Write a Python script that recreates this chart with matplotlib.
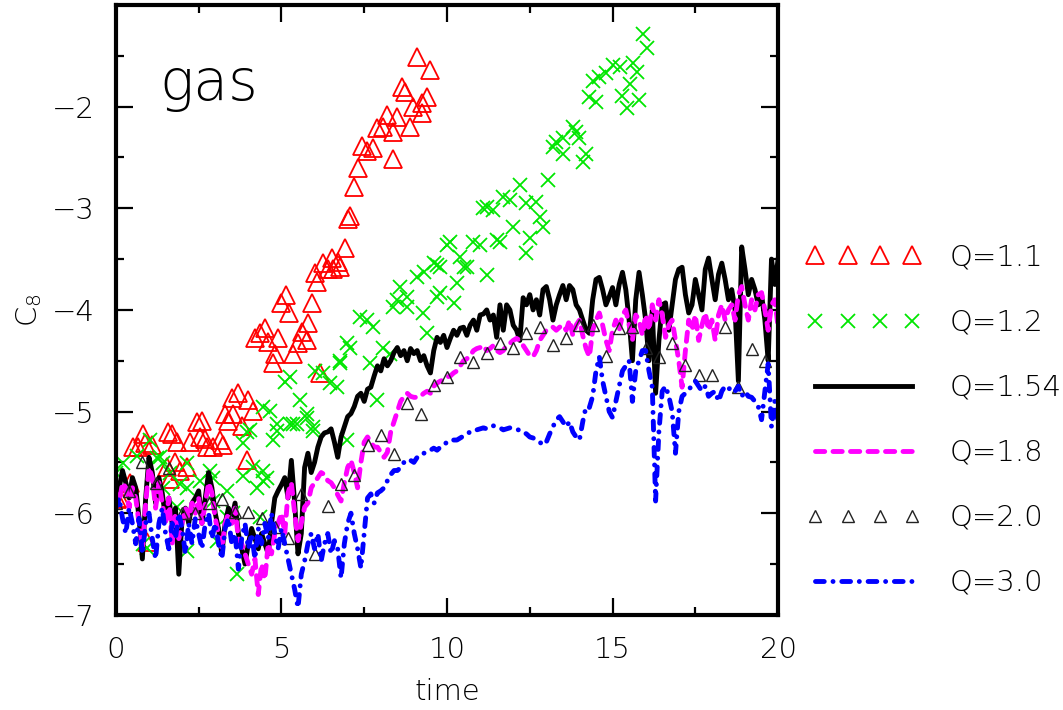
import numpy as np
import matplotlib
matplotlib.use("Agg")
import matplotlib.pyplot as plt
from matplotlib.ticker import MultipleLocator

# Q=1.1 (red triangles)
red_t = [0.03, 0.12, 0.42, 0.51, 0.67, 0.82, 0.88, 0.93, 1.09, 1.54, 1.57, 1.63, 1.7, 1.78,
         1.84, 1.93, 2.14, 2.24, 2.45, 2.54, 2.6, 2.7, 2.75, 2.93, 3.14, 3.23, 3.3, 3.38, 3.5,
         3.55, 3.7, 3.8, 3.95, 4.0, 4.15, 4.2, 4.35, 4.5, 4.6, 4.74, 4.8, 4.9, 5.0, 5.14, 5.23,
         5.35, 5.5, 5.62, 5.77, 5.8, 5.92, 6.0, 6.07, 6.16, 6.26, 6.4, 6.53, 6.56, 6.7, 6.77,
         6.92, 7.0, 7.07, 7.2, 7.3, 7.43, 7.58, 7.77, 7.9, 8.07, 8.19, 8.37, 8.37, 8.5, 8.63,
         8.73, 8.88, 8.97, 9.1, 9.25, 9.25, 9.4, 9.5]
red_c = [-5.86, -5.85, -5.7, -5.35, -5.35, -5.22, -5.31, -6.28, -5.33, -5.55, -5.2, -5.66, -5.22,
         -5.5, -5.3, -5.58, -5.55, -5.3, -5.1, -5.25, -5.09, -5.27, -5.35, -5.35, -5.28, -5.33,
         -5.02, -5.09, -4.87, -5.02, -4.82, -5.14, -5.48, -4.89, -4.99, -4.28, -4.23, -4.18,
         -4.32, -4.52, -4.43, -4.28, -3.93, -3.85, -4.03, -4.43, -4.33, -4.22, -4.3, -4.13,
         -3.93, -3.64, -3.73, -4.62, -3.54, -3.6, -3.49, -3.6, -3.53, -3.58, -3.39, -3.11,
         -3.08, -2.79, -2.6, -2.39, -2.44, -2.41, -2.21, -2.2, -2.08, -2.25, -2.52, -2.1, -1.81,
         -1.86, -2.2, -2.0, -1.51, -1.96, -2.06, -1.91, -1.64]

# Q=1.2 (green crosses)
green_t = [0.0, 0.21, 0.63, 0.82, 0.93, 1.03, 1.24, 1.33, 1.42, 1.42, 1.63, 1.84, 1.93, 2.14,
           2.14, 2.14, 2.54, 2.84, 2.93, 2.93, 3.05, 3.35, 3.35, 3.53, 3.66, 3.84, 3.84, 3.95,
           4.05, 4.14, 4.26, 4.35, 4.44, 4.44, 4.44, 4.56, 4.65, 4.74, 4.86, 4.86, 5.1, 5.26,
           5.26, 5.35, 5.47, 5.56, 5.77, 5.77, 5.95, 5.95, 6.0, 6.26, 6.47, 6.67, 6.77, 6.77,
           6.98, 6.98, 7.07, 7.37, 7.58, 7.67, 7.77, 7.9, 8.07, 8.28, 8.37, 8.49, 8.58, 8.8,
           8.8, 9.1, 9.28, 9.3, 9.4, 9.6, 9.7, 9.7, 9.8, 9.8, 10.0, 10.1, 10.2, 10.3, 10.4,
           10.5, 10.6, 10.8, 11.0, 11.1, 11.2, 11.2, 11.4, 11.5, 11.6, 11.7, 11.9, 12.0, 12.2,
           12.4, 12.4, 12.5, 12.7, 12.8, 12.9, 13.05, 13.2, 13.3, 13.5, 13.5, 13.8, 13.9, 14.0,
           14.1, 14.2, 14.3, 14.4, 14.5, 14.6, 14.8, 15.0, 15.23, 15.3, 15.45, 15.53, 15.62,
           15.74, 15.8, 15.92, 16.04]
green_c = [-5.6, -5.51, -5.44, -6.3, -6.34, -5.28, -5.46, -5.45, -5.75, -5.51, -5.6, -5.94, -5.71,
           -5.75, -6.37, -5.51, -5.68, -5.58, -5.65, -5.88, -6.27, -5.78, -6.04, -6.0, -6.6,
           -5.31, -5.63, -5.2, -5.18, -5.55, -5.75, -6.04, -4.96, -5.58, -5.68, -5.65, -4.99,
           -5.28, -5.12, -5.19, -4.71, -5.12, -4.66, -5.12, -5.12, -4.89, -5.06, -5.02, -5.15,
           -5.19, -4.6, -4.62, -4.72, -4.76, -4.52, -4.5, -5.28, -4.33, -4.37, -4.07, -4.1,
           -4.52, -4.17, -4.89, -4.37, -4.43, -3.97, -3.9, -3.77, -3.97, -3.87, -3.68, -4.03,
           -3.63, -4.23, -3.54, -3.56, -3.87, -3.83, -3.58, -3.36, -3.33, -3.93, -3.74, -3.48,
           -3.58, -3.58, -3.33, -3.36, -3.0, -2.99, -3.66, -3.02, -3.31, -3.33, -2.89, -2.92,
           -3.18, -2.77, -2.95, -3.44, -3.29, -2.94, -3.09, -3.18, -2.72, -2.4, -2.35, -2.31,
           -2.47, -2.2, -2.25, -2.31, -2.54, -2.47, -1.91, -1.75, -1.95, -1.71, -1.67, -1.59,
           -1.61, -1.9, -2.01, -1.78, -1.57, -1.66, -1.93, -1.29, -1.42]

# time axis of the continuous runs (step 0.1)
time = np.round(np.arange(0, 20.05, 0.1), 2)

# Q=1.54 (black solid)
c154 = [-5.9, -5.75, -5.58, -5.7, -5.85, -5.65, -5.75, -6.05, -6.45, -5.85,
        -5.45, -5.6, -5.9, -5.65, -5.8, -6.05, -5.85, -6.1, -5.95, -6.6,
        -6.05, -5.95, -6.1, -5.9, -5.85, -5.78, -6.1, -5.85, -5.6, -5.75,
        -6.0, -6.15, -6.4, -6.1, -5.95, -6.05, -5.9, -6.2, -6.35, -6.5,
        -6.3, -6.15, -6.25, -6.35, -6.2, -6.3, -6.4, -6.1, -5.85, -5.78,
        -5.72, -5.65, -5.85, -5.48, -5.9, -6.4, -6.2, -5.55, -5.41, -5.6,
        -5.5, -5.35, -5.25, -5.21, -5.2, -5.17, -5.3, -5.45, -5.25, -5.15,
        -5.05, -5.02, -4.95, -4.85, -4.82, -4.9, -4.78, -4.76, -4.65, -4.55,
        -4.6, -4.48, -4.55, -4.5, -4.42, -4.37, -4.45, -4.4, -4.5, -4.38,
        -4.43, -4.4, -4.5, -4.45, -4.55, -4.62, -4.4, -4.27, -4.32, -4.25,
        -4.37, -4.28, -4.2, -4.25, -4.18, -4.17, -4.25, -4.15, -4.1, -4.2,
        -4.05, -4.04, -4.0, -4.1, -4.05, -4.27, -3.95, -4.2, -3.95, -4.0,
        -4.15, -4.2, -4.3, -3.88, -3.95, -3.85, -4.0, -3.9, -4.05, -3.8,
        -3.77, -3.9, -4.1, -3.95, -3.85, -3.76, -3.9, -3.76, -3.8, -3.95,
        -4.0, -4.1, -4.2, -4.23, -3.9, -3.7, -3.68, -3.8, -3.95, -3.87,
        -3.78, -3.95, -3.75, -3.63, -3.8, -4.1, -4.5, -3.9, -3.63, -3.85,
        -4.1, -4.5, -4.0, -4.82, -4.3, -3.95, -3.93, -4.2, -3.95, -3.7,
        -3.6, -3.58, -3.85, -4.03, -3.95, -3.7, -3.85, -4.0, -3.6, -3.49,
        -3.7, -3.9, -3.65, -3.54, -3.7, -3.9, -3.8, -4.0, -4.7, -3.38,
        -3.6, -3.85, -3.7, -3.8, -3.95, -3.85, -4.1, -4.5, -3.5, -3.75,
        -3.5]

# Q=1.8 (magenta dashed)
c18 = [-5.8, -5.9, -5.7, -5.75, -5.95, -5.75, -5.85, -6.1, -6.35, -5.9,
       -5.55, -5.65, -5.95, -5.7, -5.9, -6.1, -5.85, -6.3, -6.0, -6.25,
       -6.1, -5.95, -6.05, -5.9, -6.0, -5.85, -6.1, -5.9, -5.7, -5.8,
       -6.05, -6.2, -6.35, -6.1, -6.0, -6.1, -5.95, -6.25, -6.3, -6.4,
       -6.5, -6.6, -6.45, -6.8, -6.5, -6.65, -6.3, -6.4, -6.2, -6.1,
       -6.0, -6.2, -5.8, -5.7, -6.0, -6.27, -6.1, -5.94, -5.9, -5.75,
       -5.7, -5.65, -5.6, -5.62, -5.68, -5.7, -5.75, -5.82, -5.88, -5.7,
       -5.55, -5.48, -5.6, -5.75, -5.5, -5.3, -5.25, -5.3, -5.35, -5.35,
       -5.4, -5.45, -5.4, -5.2, -5.1, -5.0, -4.9, -4.85, -4.82, -4.85,
       -4.86, -4.86, -4.85, -4.82, -4.8, -4.82, -4.75, -4.72, -4.7, -4.69,
       -4.66, -4.65, -4.62, -4.6, -4.55, -4.5, -4.48, -4.45, -4.4, -4.38,
       -4.37, -4.35, -4.4, -4.38, -4.35, -4.4, -4.42, -4.4, -4.35, -4.33,
       -4.3, -4.28, -4.3, -4.35, -4.4, -4.45, -4.46, -4.4, -4.3, -4.25,
       -4.2, -4.18, -4.17, -4.2, -4.17, -4.15, -4.2, -4.1, -4.25, -4.15,
       -4.1, -4.25, -4.38, -4.46, -4.2, -4.1, -4.03, -4.15, -4.3, -4.4,
       -4.2, -4.1, -4.2, -4.05, -4.0, -4.15, -4.3, -4.05, -4.1, -4.25,
       -4.05, -4.2, -3.95, -4.1, -3.9, -4.05, -4.27, -4.15, -4.1, -4.3,
       -4.5, -4.76, -4.4, -4.1, -4.2, -4.05, -4.3, -4.15, -4.03, -4.2,
       -4.1, -4.3, -4.05, -3.95, -4.1, -4.0, -3.95, -4.1, -3.85, -3.77,
       -3.95, -4.1, -3.9, -4.0, -3.85, -3.83, -4.0, -4.2, -3.95, -3.9,
       -4.17]

# Q=2.0 (small black triangles, every 0.4)
q20_t = np.round(np.arange(0, 19.7, 0.4), 2)
q20_c = [-5.9, -5.78, -5.5, -5.7, -5.56, -6.0, -6.0, -5.9, -5.86, -5.99,
         -5.99, -6.05, -6.14, -6.24, -5.81, -6.4, -5.93, -5.71, -5.62, -5.33,
         -5.23, -5.42, -4.92, -5.02, -4.74, -4.66, -4.46, -4.51, -4.42, -4.33,
         -4.37, -4.23, -4.17, -4.35, -4.28, -4.15, -4.15, -4.45, -4.18, -4.17,
         -4.37, -4.46, -4.33, -4.54, -4.64, -4.64, -4.17, -4.76, -4.38, -4.5]

# Q=3.0 (blue dash-dot)
c30 = [-5.95, -5.85, -6.05, -6.2, -5.95, -6.1, -6.3, -6.05, -6.4, -6.1,
       -6.0, -6.25, -6.45, -6.1, -5.95, -6.2, -6.35, -6.1, -6.25, -6.0,
       -6.15, -6.4, -6.1, -6.3, -6.05, -6.2, -6.35, -6.1, -6.0, -6.25,
       -6.1, -6.3, -6.45, -6.15, -6.05, -6.3, -6.2, -6.55, -6.25, -6.1,
       -6.35, -6.2, -6.45, -6.15, -6.3, -6.1, -6.25, -6.0, -6.2, -6.35,
       -6.15, -6.3, -6.45, -6.6, -6.75, -6.93, -6.6, -6.47, -6.3, -6.2,
       -6.35, -6.2, -6.47, -6.3, -6.2, -6.4, -6.27, -6.35, -6.64, -6.3,
       -6.1, -6.0, -6.2, -6.35, -6.54, -6.2, -5.85, -5.81, -5.9, -5.8,
       -5.78, -5.75, -5.68, -5.62, -5.58, -5.58, -5.55, -5.5, -5.51, -5.48,
       -5.5, -5.45, -5.42, -5.41, -5.4, -5.38, -5.36, -5.38, -5.35, -5.33,
       -5.3, -5.3, -5.28, -5.28, -5.26, -5.24, -5.22, -5.2, -5.2, -5.18,
       -5.17, -5.16, -5.17, -5.15, -5.14, -5.15, -5.16, -5.18, -5.17, -5.16,
       -5.17, -5.18, -5.18, -5.2, -5.22, -5.25, -5.26, -5.28, -5.3, -5.33,
       -5.3, -5.22, -5.15, -5.08, -5.05, -5.1, -5.15, -5.1, -5.2, -5.25,
       -5.28, -5.1, -4.95, -4.96, -4.85, -4.6, -4.46, -4.7, -4.85, -5.0,
       -5.06, -4.9, -4.75, -4.6, -4.55, -4.5, -4.9, -4.6, -4.5, -4.4,
       -4.4, -4.6, -4.76, -5.88, -5.2, -4.8, -4.75, -4.85, -5.0, -5.41,
       -5.0, -4.85, -4.82, -4.78, -4.75, -4.7, -4.75, -4.8, -4.75, -4.85,
       -4.82, -4.8, -4.9, -4.8, -4.75, -4.78, -4.76, -4.8, -4.75, -4.85,
       -4.8, -4.85, -4.86, -4.9, -4.95, -5.08, -4.8, -4.53, -5.15, -4.9,
       -5.1]

labels = ["Q=1.1", "Q=1.2", "Q=1.54", "Q=1.8", "Q=2.0", "Q=3.0"]

plt.rcParams['font.family'] = ['DejaVu Sans']
plt.rcParams['font.weight'] = 'light'
plt.rcParams['axes.labelweight'] = 'light'
plt.rcParams['mathtext.fontset'] = 'dejavusans'

fig = plt.figure(figsize=(10.63, 7.10), dpi=100)
ax = fig.add_axes([0.109, 0.134, 0.623, 0.859])

ax.plot(red_t, red_c, linestyle='none', marker='^', ms=13, mfc='none', mec='#ff0000',
        mew=1.3, label=labels[0])
ax.plot(green_t, green_c, linestyle='none', marker='x', ms=10, mec='#00e600',
        mew=1.3, label=labels[1])
ax.plot(time, c154, color='black', lw=3.5, solid_joinstyle='round', label=labels[2])
ax.plot(time, c18, color='#ff00ff', lw=3.5, dashes=(1.9, 1.7), dash_capstyle='round',
        label=labels[3])
ax.plot(q20_t, q20_c, linestyle='none', marker='^', ms=8, mfc='none', mec='#222222',
        mew=1.0, label=labels[4])
ax.plot(time, c30, color='#0000ff', lw=3.5, dashes=(1.8, 1.8, 0.01, 1.8),
        dash_capstyle='round', label=labels[5])

ax.set_xlim(0, 20)
ax.set_ylim(-7, -1)
ax.xaxis.set_major_locator(MultipleLocator(5))
ax.xaxis.set_minor_locator(MultipleLocator(2.5))
ax.yaxis.set_minor_locator(MultipleLocator(0.5))
ax.set_yticks([-7, -6, -5, -4, -3, -2])
ax.tick_params(which='both', direction='in', top=True, right=True, labelsize=21)
ax.tick_params(which='major', length=12, width=1.6, pad=15)
ax.tick_params(which='minor', length=6, width=1.6)
for s in ax.spines.values():
    s.set_linewidth(3)

ax.set_xlabel("time", fontsize=21, labelpad=10)
ax.set_ylabel(r"C$_8$", fontsize=21, labelpad=6)
ax.text(1.3, -1.93, "gas", fontsize=41, va='baseline', ha='left')

leg = ax.legend(loc='upper left', bbox_to_anchor=(795 / 1063, 1 - 232 / 710),
                bbox_transform=fig.transFigure, frameon=False, fontsize=21,
                numpoints=4, handlelength=3.9, handletextpad=1.0, labelspacing=1.27,
                borderaxespad=0)

fig.savefig("out.png", dpi=100)
